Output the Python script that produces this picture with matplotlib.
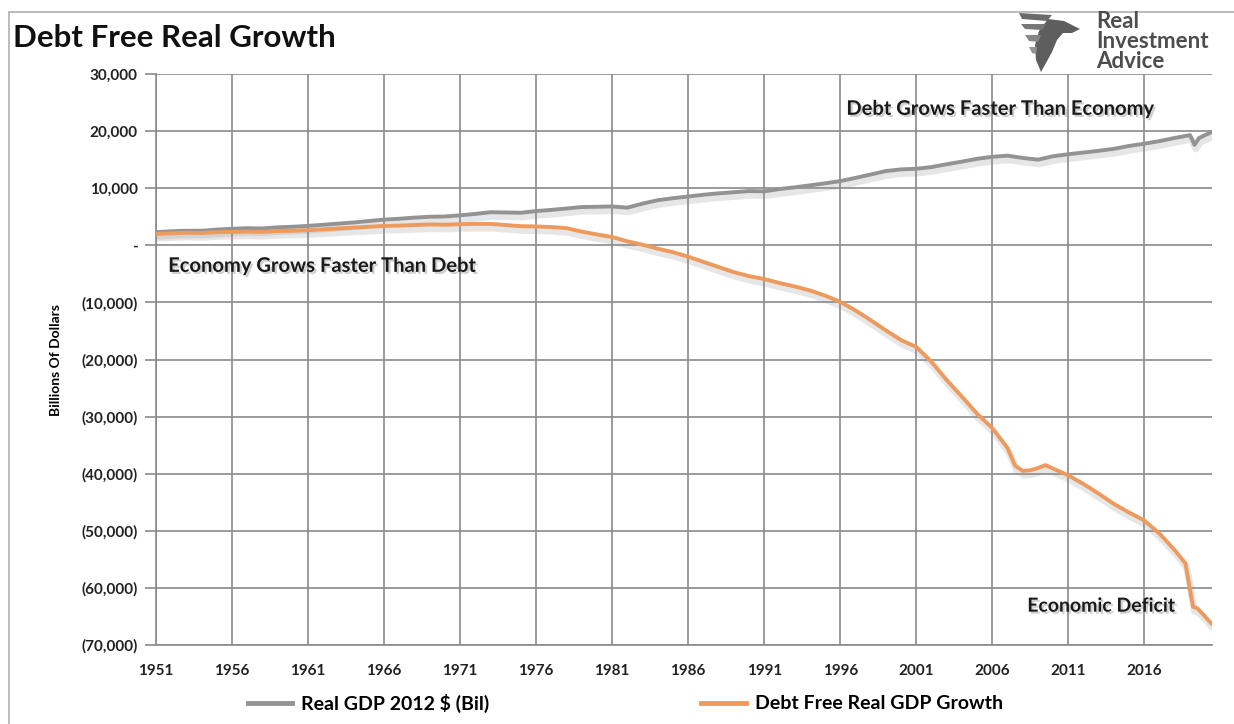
import matplotlib
matplotlib.use("Agg")
import matplotlib.pyplot as plt
import matplotlib.patheffects as pe
from matplotlib.patches import Polygon, Rectangle
from matplotlib.ticker import FuncFormatter

plt.rcParams['font.family'] = ['Lato', 'DejaVu Sans']

# Real GDP, billions of chained 2012 dollars
gdp_years = [1951, 1952, 1953, 1954, 1955, 1956, 1957, 1958, 1959, 1960,
             1961, 1962, 1963, 1964, 1965, 1966, 1967, 1968, 1969, 1970,
             1971, 1972, 1973, 1974, 1975, 1976, 1977, 1978, 1979, 1980,
             1981, 1982, 1983, 1984, 1985, 1986, 1987, 1988, 1989, 1990,
             1991, 1992, 1993, 1994, 1995, 1996, 1997, 1998, 1999, 2000,
             2001, 2002, 2003, 2004, 2005, 2006, 2007, 2008, 2009, 2010,
             2011, 2012, 2013, 2014, 2015, 2016, 2017, 2018, 2019, 2019.3,
             2019.6, 2020.4]
gdp_values = [2300, 2450, 2550, 2550, 2750, 2900, 3000, 2950, 3150, 3250,
              3400, 3600, 3800, 4000, 4250, 4500, 4650, 4850, 5000, 5050,
              5250, 5500, 5800, 5750, 5700, 6000, 6200, 6450, 6700, 6750,
              6800, 6600, 7300, 7900, 8250, 8550, 8850, 9100, 9300, 9500,
              9450, 9850, 10150, 10500, 10850, 11250, 11800, 12400, 13000, 13300,
              13400, 13700, 14200, 14650, 15150, 15500, 15700, 15300, 15000, 15600,
              15950, 16250, 16550, 16900, 17400, 17800, 18250, 18800, 19300, 17600,
              18800, 19800]

# GDP growth net of debt growth
free_years = [1951, 1952, 1953, 1954, 1955, 1956, 1957, 1958, 1959, 1960,
              1961, 1962, 1963, 1964, 1965, 1966, 1967, 1968, 1969, 1970,
              1971, 1972, 1973, 1974, 1975, 1976, 1977, 1978, 1979, 1980,
              1981, 1982, 1983, 1984, 1985, 1986, 1987, 1988, 1989, 1990,
              1991, 1992, 1993, 1994, 1995, 1996, 1997, 1998, 1999, 2000,
              2001, 2002, 2003, 2004, 2005, 2006, 2007, 2007.5, 2008, 2008.5,
              2009, 2009.5, 2010, 2011, 2012, 2013, 2014, 2015, 2016, 2017,
              2018, 2018.7, 2019.2, 2019.5, 2020.4]
free_values = [2000, 2100, 2200, 2150, 2300, 2350, 2400, 2350, 2500, 2550,
               2650, 2800, 2950, 3100, 3250, 3400, 3450, 3550, 3650, 3600,
               3700, 3750, 3750, 3550, 3350, 3300, 3200, 3000, 2400, 1900,
               1450, 700, 100, -600, -1200, -2000, -2900, -3800, -4700, -5400,
               -5900, -6600, -7200, -7900, -8800, -9900, -11400, -13100, -14900, -16600,
               -17800, -20400, -23600, -26500, -29500, -32000, -35500, -38600, -39500, -39400,
               -39000, -38500, -39100, -40300, -41800, -43500, -45300, -46800, -48200, -50500,
               -53400, -55700, -63300, -63600, -66200]

tick_years = list(range(1951, 2017, 5))
y_ticks = list(range(-70000, 30001, 10000))

GRAY = '#939393'
ORANGE = '#ee9a5d'
GRID = '#8a8a8a'
W, H = 1234, 724


def fx(px):
    return px / W


def fy(py):
    return 1 - py / H


def fmt_thousands(v, pos):
    if v == 0:
        return '-'
    if v < 0:
        return '({:,.0f})'.format(-v)
    return '{:,.0f}'.format(v)


fig = plt.figure(figsize=(12.34, 7.24), dpi=100)
ax = fig.add_axes([fx(156), fy(645), fx(1212) - fx(156), fy(74) - fy(645)])

shadow = [pe.SimpleLineShadow(offset=(1, -3), shadow_color='#909090', alpha=0.22, linewidth=5),
          pe.Normal()]
ax.plot(gdp_years, gdp_values, color=GRAY, lw=2.8, path_effects=shadow,
        label='Real GDP 2012 $ (Bil)', zorder=3, solid_joinstyle='round')
ax.plot(free_years, free_values, color=ORANGE, lw=2.8, path_effects=shadow,
        label='Debt Free Real GDP Growth', zorder=3, solid_joinstyle='round')

ax.set_xlim(1951, 2020.45)
ax.set_ylim(-70000, 30000)
ax.set_xticks(tick_years)
ax.set_yticks(y_ticks)
ax.yaxis.set_major_formatter(FuncFormatter(fmt_thousands))
ax.grid(True, color=GRID, lw=1.2)
ax.set_axisbelow(True)
for s in ['top', 'right']:
    ax.spines[s].set_visible(False)
for s in ['left', 'bottom']:
    ax.spines[s].set_color(GRID)
    ax.spines[s].set_linewidth(1.2)
ax.tick_params(axis='y', length=8, width=1.2, color=GRID, pad=5, labelsize=11)
ax.tick_params(axis='x', length=0, pad=14, labelsize=11)
for lbl in ax.get_xticklabels() + ax.get_yticklabels():
    lbl.set_fontweight('bold')
    lbl.set_color('#222222')
ax.set_ylabel('Billions Of Dollars', fontsize=10, fontweight='bold', labelpad=14)

# annotations
txt_fx = [pe.withSimplePatchShadow(offset=(1.5, -1.5), shadow_rgbFace='#888888', alpha=0.4)]
ax.text(1951.8, -3600, 'Economy Grows Faster Than Debt', fontsize=14.5, fontweight='bold',
        color='#1a1a1a', va='center', path_effects=txt_fx)
ax.text(1996.4, 23900, 'Debt Grows Faster Than Economy', fontsize=14.5, fontweight='bold',
        color='#1a1a1a', va='center', path_effects=txt_fx)
ax.text(2008.3, -63200, 'Economic Deficit', fontsize=14, fontweight='bold',
        color='#1a1a1a', va='center', path_effects=txt_fx)

fig.text(fx(13), fy(38), 'Debt Free Real Growth', fontsize=22.5, fontweight='bold',
         color='#111111', va='center', ha='left')

# logo
logo_parts = [
    [(1048, 19), (1064, 21), (1080, 29), (1072, 33), (1063, 33), (1057, 40),
     (1052, 52), (1046, 63), (1041, 72), (1036, 60), (1035, 45), (1039, 31)],
    [(1019, 13), (1052, 15), (1047, 21), (1022, 19)],
    [(1021, 24), (1046, 24), (1042, 30), (1025, 29)],
    [(1025, 35), (1041, 35), (1038, 42), (1029, 41)],
    [(1029, 47), (1037, 47), (1036, 54), (1032, 53)],
]
shades = ['#5e5e5e', '#6a6a6a', '#777777', '#868686', '#949494']
for pts, c in zip(logo_parts, shades):
    fig.add_artist(Polygon([(fx(x), fy(y)) for x, y in pts], closed=True,
                           facecolor=c, edgecolor='none', transform=fig.transFigure))
for word, py in [('Real', 21), ('Investment', 42), ('Advice', 62)]:
    fig.text(fx(1096), fy(py), word, fontsize=16, fontweight='bold', color='#4d4d4d',
             va='center', ha='left')

# frame
fig.add_artist(Rectangle((fx(9), fy(740)), 1.1, fy(12) - fy(740), fill=False,
                         edgecolor='#b0b0b0', lw=1.2, transform=fig.transFigure))

leg = fig.legend(loc='center left', bbox_to_anchor=(fx(230), fy(703)), ncol=2, frameon=False,
                 handlelength=2.3, columnspacing=10.9, handletextpad=0.45,
                 prop={'weight': 'bold', 'size': 14})
for line in leg.get_lines():
    line.set_linewidth(3.5)
    line.set_path_effects([])

fig.savefig('out.png', dpi=100, facecolor='white')
